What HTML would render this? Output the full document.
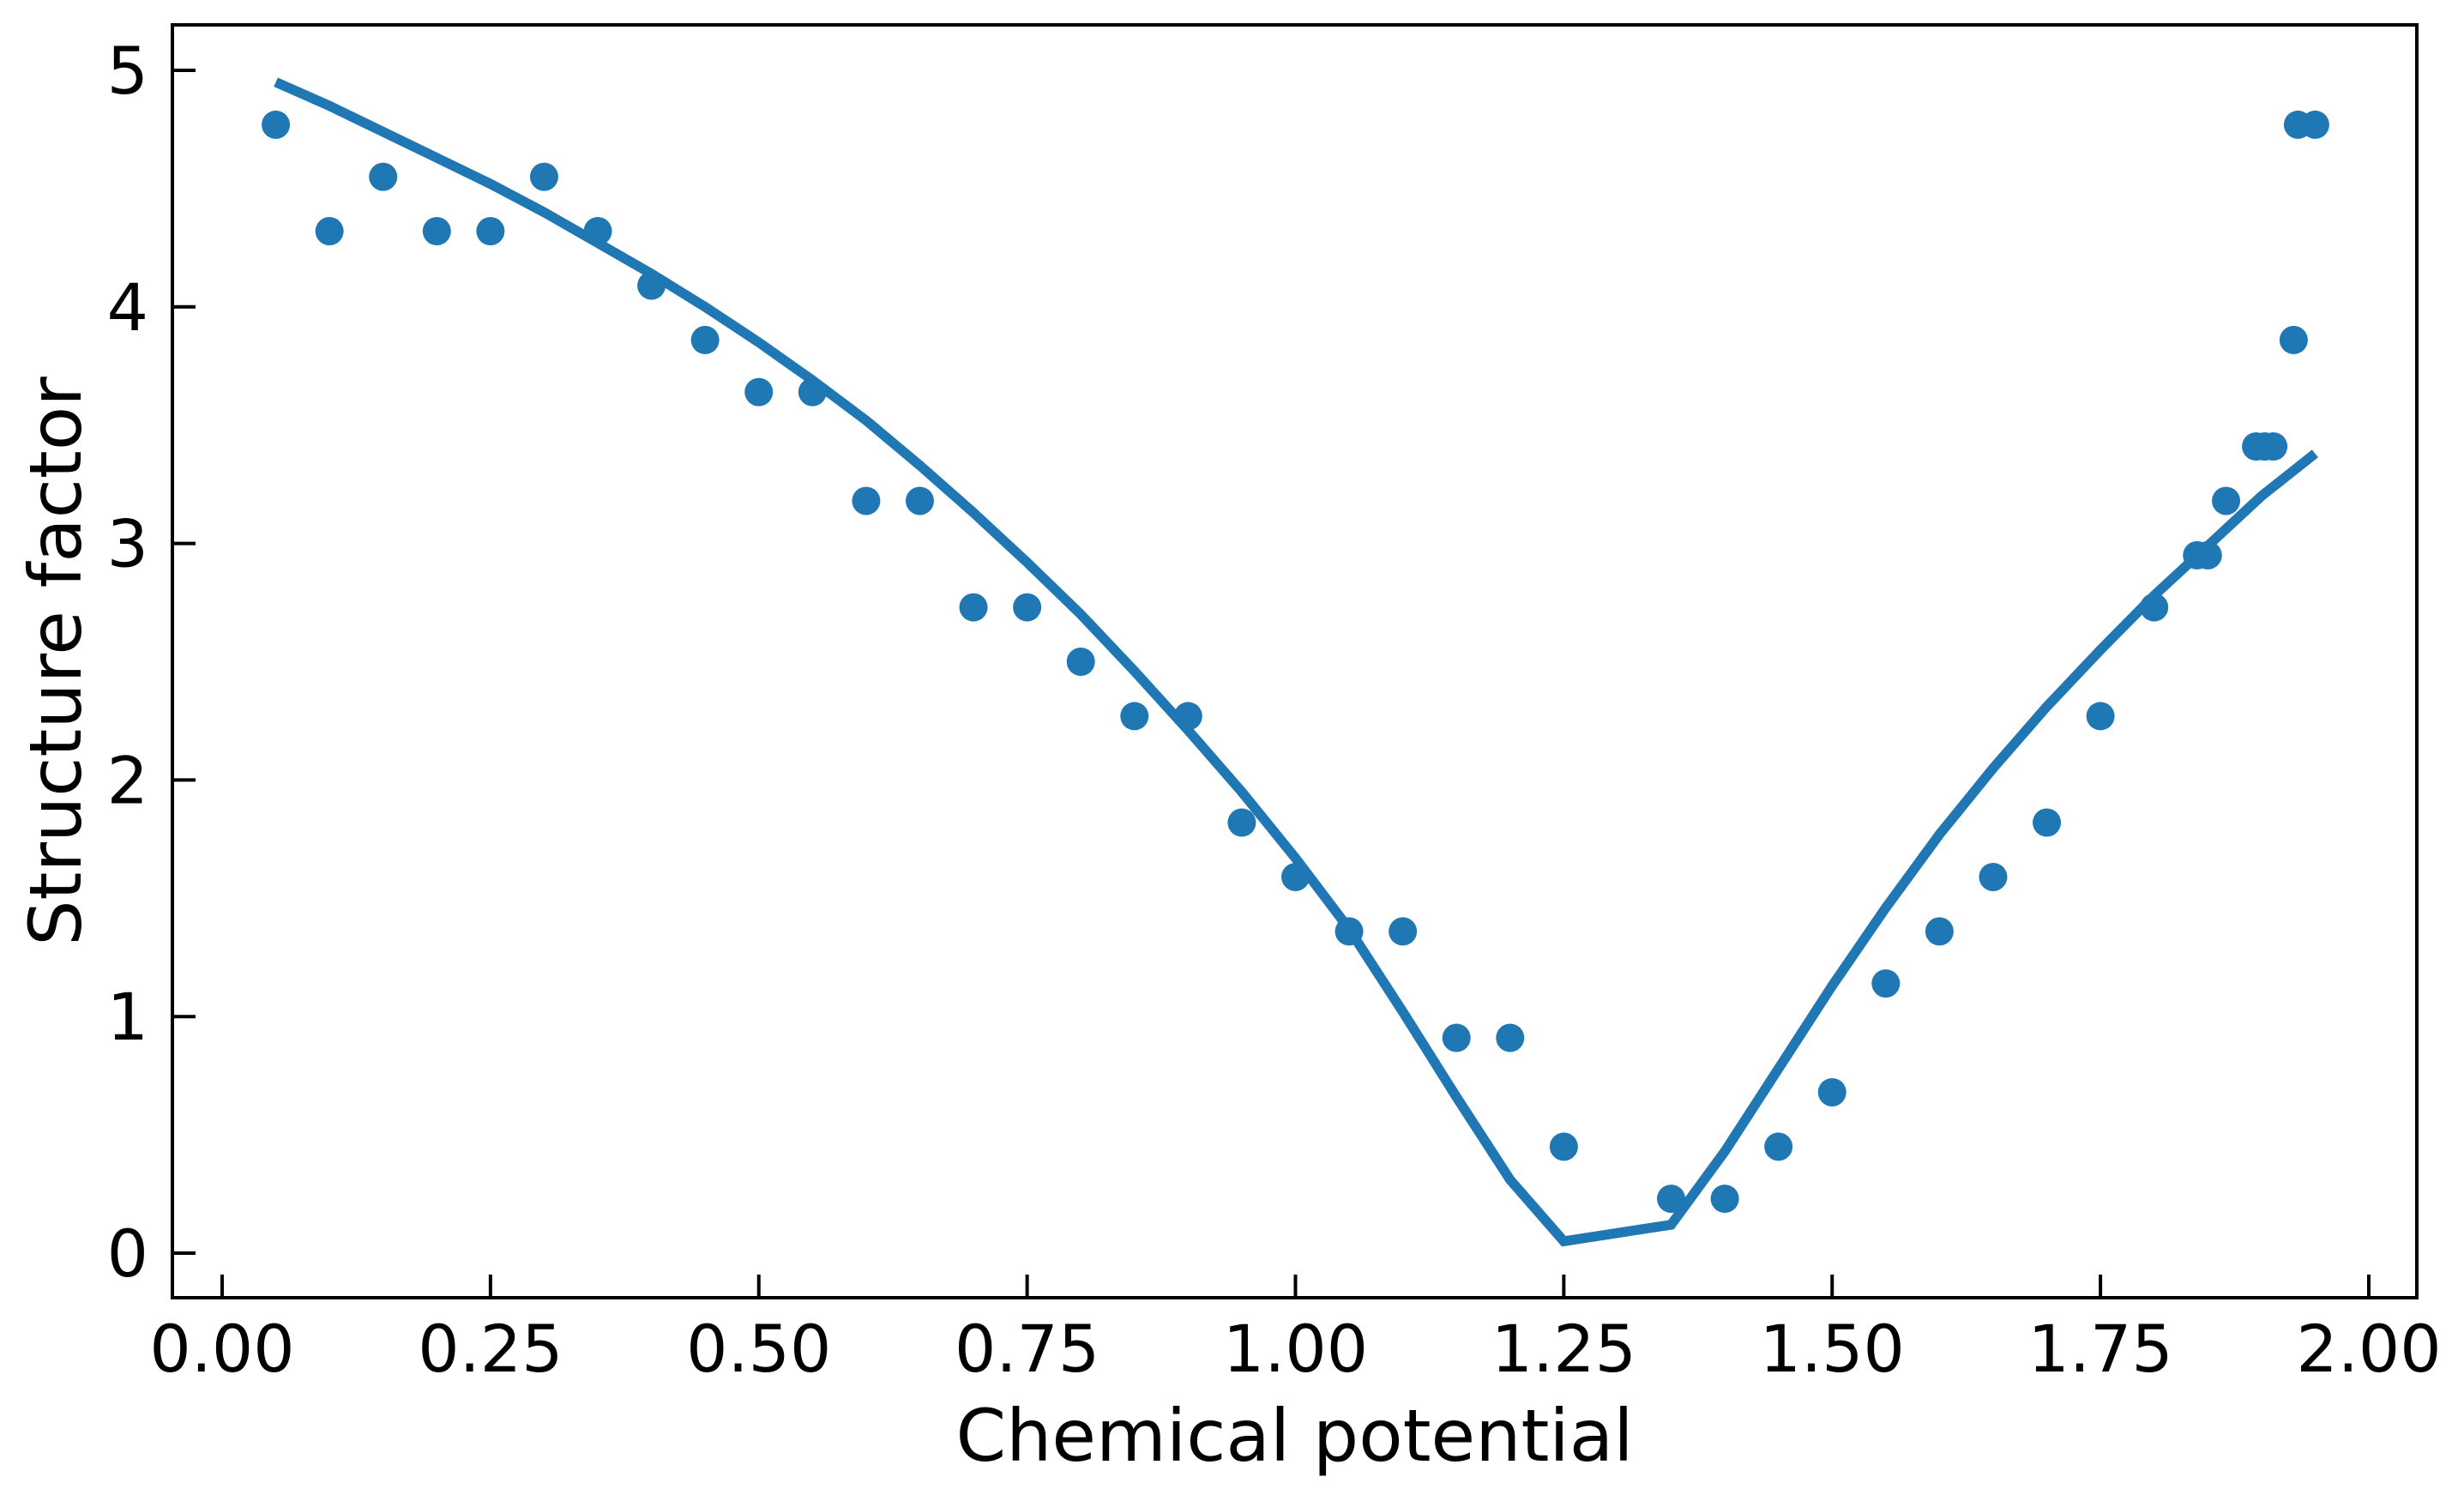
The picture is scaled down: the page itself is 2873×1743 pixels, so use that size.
<!DOCTYPE html>
<html><head><meta charset="utf-8"><style>
html,body{margin:0;padding:0;background:#fff}
svg{display:block;font-family:"DejaVu Sans","Liberation Sans",sans-serif}
</style></head><body>
<svg id="chart" width="2873" height="1743" viewBox="0 0 2873 1743" xmlns="http://www.w3.org/2000/svg">
<rect x="0" y="0" width="2873" height="1743" fill="#fff"/>
<g id="marks"></g>
<g id="axes"></g>
</svg>
<script>
const xTicks = [0, 0.25, 0.5, 0.75, 1.0, 1.25, 1.5, 1.75, 2.0];
const xTickLabels = ["0.00","0.25","0.50","0.75","1.00","1.25","1.50","1.75","2.00"];
const yTicks = [0, 1, 2, 3, 4, 5];
const yTickLabels = ["0","1","2","3","4","5"];
const pointX = [0.05,0.10,0.15,0.20,0.25,0.30,0.35,0.40,0.45,0.50,0.55,0.60,0.65,0.70,0.75,0.80,0.85,0.90,0.95,1.00,1.05,1.10,1.15,1.20,1.25,1.35,1.40,1.45,1.50,1.55,1.60,1.65,1.70,1.75,1.80,1.84,1.85,1.867,1.895,1.903,1.911,1.93,1.934,1.95];
const pointY = [4.77,4.32,4.55,4.32,4.32,4.55,4.32,4.09,3.86,3.64,3.64,3.18,3.18,2.73,2.73,2.50,2.27,2.27,1.82,1.59,1.36,1.36,0.91,0.91,0.45,0.23,0.23,0.45,0.68,1.14,1.36,1.59,1.82,2.27,2.73,2.95,2.95,3.18,3.41,3.41,3.41,3.86,4.77,4.77];
const lineX = [0.05,0.10,0.15,0.20,0.25,0.30,0.35,0.40,0.45,0.50,0.55,0.60,0.65,0.70,0.75,0.80,0.85,0.90,0.95,1.00,1.05,1.10,1.15,1.20,1.25,1.35,1.40,1.45,1.50,1.55,1.60,1.65,1.70,1.75,1.80,1.85,1.90,1.95];
const lineY = [4.95,4.85,4.74,4.63,4.52,4.40,4.27,4.14,4.00,3.85,3.69,3.52,3.33,3.13,2.92,2.70,2.46,2.21,1.95,1.67,1.37,1.02,0.66,0.31,0.05,0.12,0.43,0.78,1.13,1.46,1.77,2.05,2.31,2.55,2.78,2.99,3.20,3.38];

const NS = "http://www.w3.org/2000/svg";
const X0 = 259, X2 = 2762, Y0 = 1461, Y5 = 82;
const L = 201, R = 2818, T = 29, B = 1513;
function sx(v){ return X0 + (X2 - X0) * v / 2; }
function sy(v){ return Y0 + (Y5 - Y0) * v / 5; }
function mk(tag, attrs, parent){
  const e = document.createElementNS(NS, tag);
  for (const k in attrs) e.setAttribute(k, attrs[k]);
  parent.appendChild(e);
  return e;
}
const marks = document.getElementById('marks');
const axes = document.getElementById('axes');

let d = lineX.map((x,i)=>(i?'L':'M')+sx(x).toFixed(1)+' '+sy(lineY[i]).toFixed(1)).join(' ');
const ln = mk('path', {d:d, fill:'none', stroke:'#1f77b4', 'stroke-width':11.5, 'stroke-linejoin':'miter'}, marks);



pointX.forEach((x,i)=>{
  const c = mk('circle', {cx:sx(x), cy:sy(pointY[i]), r:16.5, fill:'#1f77b4'}, marks);
  
  
});

const frame = mk('rect', {x:L, y:T, width:R-L, height:B-T, fill:'none', stroke:'#000', 'stroke-width':4}, axes);



xTicks.forEach((v,i)=>{
  const t = mk('line', {x1:sx(v), x2:sx(v), y1:B, y2:B-27, stroke:'#000', 'stroke-width':4}, axes);
  
  
  const tx = mk('text', {x:sx(v), y:1599, 'font-size':76, 'text-anchor':'middle', fill:'#000'}, axes);
  tx.textContent = xTickLabels[i];
  
  
});
yTicks.forEach((v,i)=>{
  const t = mk('line', {x1:L, x2:L+27, y1:sy(v), y2:sy(v), stroke:'#000', 'stroke-width':4}, axes);
  
  
  const tx = mk('text', {x:173, y:sy(v)+27, 'font-size':76, 'text-anchor':'end', fill:'#000'}, axes);
  tx.textContent = yTickLabels[i];
  
  
});
const xt = mk('text', {x:(L+R)/2, y:1703, 'font-size':84, 'text-anchor':'middle', fill:'#000'}, axes);
xt.textContent = 'Chemical potential';


const yt = mk('text', {x:0, y:0, 'font-size':84, 'text-anchor':'middle', fill:'#000', transform:'translate(94,771) rotate(-90)'}, axes);
yt.textContent = 'Structure factor';


</script>
</body></html>
